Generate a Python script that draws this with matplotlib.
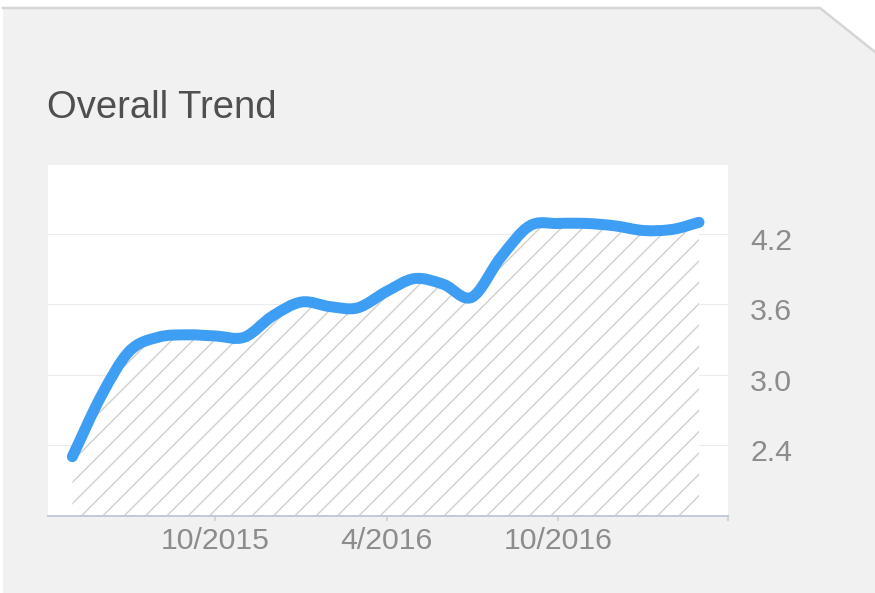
import numpy as np
import pandas as pd
import matplotlib
matplotlib.use('Agg')
import matplotlib.pyplot as plt
import matplotlib.dates as mdates
from matplotlib.path import Path
from matplotlib.patches import PathPatch, Polygon
from matplotlib.lines import Line2D
from matplotlib.transforms import ScaledTranslation

# monthly overall score
months = pd.date_range('2015-05-01', '2017-03-01', freq='MS')
scores = [2.30, 2.82, 3.20, 3.32, 3.34, 3.33, 3.32, 3.50, 3.62, 3.58, 3.57, 3.71,
          3.82, 3.77, 3.66, 4.00, 4.27, 4.29, 4.29, 4.27, 4.23, 4.24, 4.30]

tick_dates = pd.to_datetime(['2015-10-01', '2016-04-01', '2016-10-01', '2017-04-01'])
tick_labels = ['10/2015', '4/2016', '10/2016', '']
y_ticks = [2.4, 3.0, 3.6, 4.2]
y_tick_labels = ['2.4', '3.0', '3.6', '4.2']

title = 'Overall Trend'

DPI = 64
W, H = 875, 593
px = 72.0 / DPI  # points per pixel

plt.rcParams['font.family'] = ['Liberation Sans', 'DejaVu Sans']
plt.rcParams['hatch.linewidth'] = 1.4 * px


def tangents(x, y):
    # catmull-rom style tangents, one-sided at the ends
    m = np.empty(len(x))
    m[1:-1] = (y[2:] - y[:-2]) / (x[2:] - x[:-2])
    m[0] = (y[1] - y[0]) / (x[1] - x[0])
    m[-1] = (y[-1] - y[-2]) / (x[-1] - x[-2])
    return m


def smooth_path(x, y):
    m = tangents(x, y)
    verts = [(x[0], y[0])]
    codes = [Path.MOVETO]
    for i in range(len(x) - 1):
        dx = (x[i + 1] - x[i]) / 3
        verts += [(x[i] + dx, y[i] + m[i] * dx),
                  (x[i + 1] - dx, y[i + 1] - m[i + 1] * dx),
                  (x[i + 1], y[i + 1])]
        codes += [Path.CURVE4] * 3
    return verts, codes


fig = plt.figure(figsize=(W / DPI, H / DPI), dpi=DPI)
fig.patch.set_facecolor('white')

# card background with the clipped corner
card = Polygon([(3 / W, 0), (3 / W, 585 / H), (820 / W, 585 / H), (1, 541 / H), (1, 0)],
               closed=True, transform=fig.transFigure, facecolor='#f1f1f1',
               edgecolor='none', zorder=-2)
fig.patches.append(card)
card_edge = Line2D([3 / W, 820 / W, 1], [585 / H, 585 / H, 541 / H], transform=fig.transFigure,
                   color='#d6d6d6', linewidth=2.5 * px, zorder=-1)
fig.lines.append(card_edge)

fig.text(47 / W, (H - 118) / H, title, fontsize=43, color='#4f4f4f', va='baseline', ha='left')

ax = fig.add_axes([48 / W, 1 - 516 / H, 680 / W, 351 / H])
ax.set_facecolor('white')

x = mdates.date2num(months)
y = np.array(scores)
ymin, ymax = 1.794, 4.789

verts, codes = smooth_path(x, y)

# hatched area under the curve
area_verts = verts + [(x[-1], ymin), (x[0], ymin), (x[0], y[0])]
area_codes = codes + [Path.LINETO, Path.LINETO, Path.CLOSEPOLY]
area = PathPatch(Path(area_verts, area_codes), facecolor='white', edgecolor='#d0d0d0',
                 linewidth=0, hatch='/', zorder=1)
ax.add_patch(area)

line = PathPatch(Path(verts, codes), facecolor='none', edgecolor='#3d9ef3',
                 linewidth=11 * px, capstyle='round', joinstyle='round', zorder=3)
ax.add_patch(line)

ax.set_xlim(mdates.date2num(pd.Timestamp('2015-04-05')), mdates.date2num(pd.Timestamp('2017-04-01')))
ax.set_ylim(ymin, ymax)

ax.set_xticks(mdates.date2num(tick_dates))
ax.set_xticklabels(tick_labels)
ax.set_yticks(y_ticks)
ax.set_yticklabels(y_tick_labels)

ax.yaxis.tick_right()
ax.tick_params(axis='y', length=0, pad=22 * px, labelsize=34, labelcolor='#8c8c8c')
ax.tick_params(axis='x', length=5 * px, width=1.5 * px, color='#c5cad8', pad=6 * px,
               labelsize=34, labelcolor='#8c8c8c')
for lab in ax.get_yticklabels():
    lab.set_horizontalalignment('left')
    lab.set_transform(lab.get_transform() + ScaledTranslation(0, -5 / DPI, fig.dpi_scale_trans))

ax.grid(axis='y', color='#ececec', linewidth=1.2 * px, zorder=0)
ax.set_axisbelow(True)
for side in ['top', 'left', 'right']:
    ax.spines[side].set_visible(False)
ax.spines['bottom'].set_color('#c5cad8')
ax.spines['bottom'].set_linewidth(2 * px)

fig.savefig('out.png', dpi=DPI, facecolor=fig.get_facecolor())
